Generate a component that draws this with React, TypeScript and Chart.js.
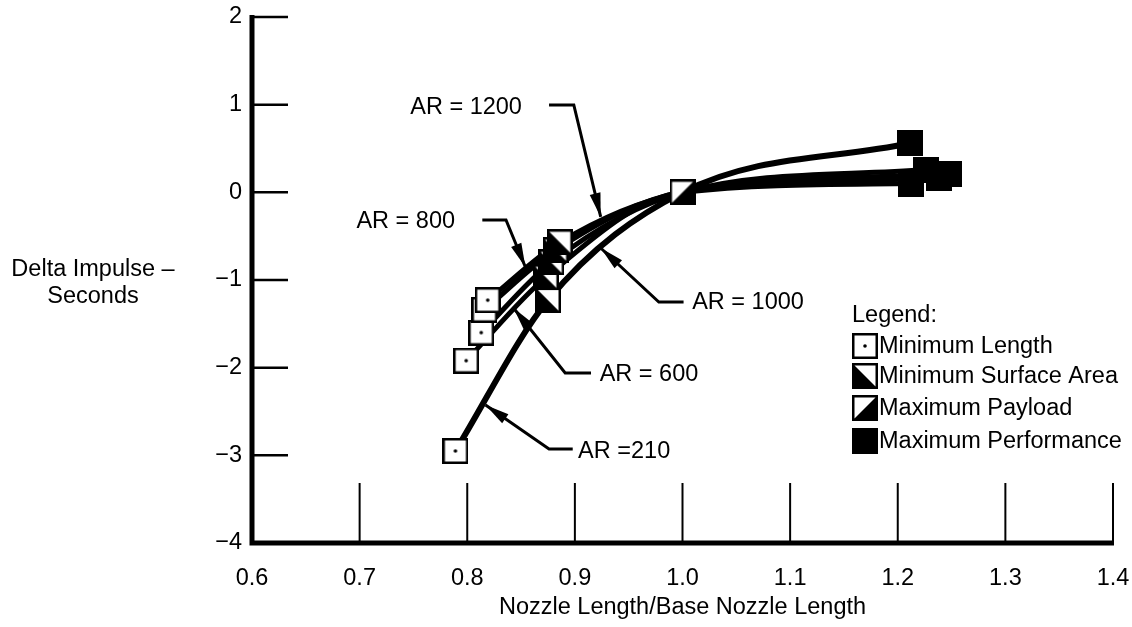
import React, { useEffect, useRef } from 'react';
import { Chart, registerables } from 'chart.js';

Chart.register(...registerables);

// ---- data ----
const designNames = ['Minimum Length', 'Minimum Surface Area', 'Maximum Payload', 'Maximum Performance'];
const arNames = ['AR =210', 'AR = 600', 'AR = 800', 'AR = 1000', 'AR = 1200'];
// per area ratio: [minimum length, minimum surface area, maximum payload, maximum performance]
const ar210X = [0.789, 0.875, 1.0, 1.211];
const ar210Y = [-2.95, -1.23, 0, 0.56];
const ar600X = [0.799, 0.873, 1.0, 1.212];
const ar600Y = [-1.92, -0.97, 0, 0.1];
const ar800X = [0.813, 0.878, 1.0, 1.226];
const ar800Y = [-1.6, -0.8, 0, 0.26];
const ar1000X = [0.816, 0.882, 1.0, 1.238];
const ar1000Y = [-1.34, -0.66, 0, 0.16];
const ar1200X = [0.819, 0.886, 1.0, 1.248];
const ar1200Y = [-1.23, -0.57, 0, 0.21];

const xTickValues = [0.6, 0.7, 0.8, 0.9, 1.0, 1.1, 1.2, 1.3, 1.4];
const yTickValues = [-4, -3, -2, -1, 0, 1, 2];

const xTitle = 'Nozzle Length/Base Nozzle Length';
const yTitleLines = ['Delta Impulse \u2013', 'Seconds'];
const legendTitle = 'Legend:';

// callout labels (data units): text left x, text centre y, leader path
const calloutText = ['AR = 1200', 'AR = 800', 'AR = 1000', 'AR = 600', 'AR =210'];
const calloutTextX = [0.747, 0.697, 1.009, 0.923, 0.903];
const calloutTextY = [0.973, -0.338, -1.262, -2.083, -2.962];
const calloutPathX = [
  [0.876, 0.899, 0.924],
  [0.814, 0.836, 0.854],
  [1.001, 0.978, 0.924],
  [0.915, 0.891, 0.843],
  [0.898, 0.876, 0.817],
];
const calloutPathY = [
  [0.996, 0.996, -0.281],
  [-0.315, -0.315, -0.852],
  [-1.251, -1.251, -0.635],
  [-2.061, -2.061, -1.319],
  [-2.928, -2.928, -2.426],
];

const FONT = '"Liberation Sans", Arial, Helvetica, sans-serif';
const FS = 23.5;

const arX = [ar210X, ar600X, ar800X, ar1000X, ar1200X];
const arY = [ar210Y, ar600Y, ar800Y, ar1000Y, ar1200Y];

function makeMarker(kind: number, size = 26): HTMLCanvasElement {
  const c = document.createElement('canvas');
  c.width = size;
  c.height = size;
  const g = c.getContext('2d')!;
  const lw = 2.5;
  const a = lw / 2;
  const b = size - lw / 2;
  g.fillStyle = kind === 3 ? '#000' : '#fff';
  g.fillRect(0, 0, size, size);
  g.fillStyle = '#000';
  if (kind === 1) {
    g.beginPath();
    g.moveTo(a, a);
    g.lineTo(a, b);
    g.lineTo(b, b);
    g.closePath();
    g.fill();
  } else if (kind === 2) {
    g.beginPath();
    g.moveTo(b, a);
    g.lineTo(b, b);
    g.lineTo(a, b);
    g.closePath();
    g.fill();
  } else if (kind === 0) {
    g.beginPath();
    g.arc(size / 2, size / 2, 1.8, 0, Math.PI * 2);
    g.fill();
  }
  g.strokeStyle = '#000';
  g.lineWidth = lw;
  g.strokeRect(a, a, size - lw, size - lw);
  return c;
}

export default function App() {
  const ref = useRef<HTMLCanvasElement | null>(null);

  useEffect(() => {
    document.body.style.margin = '0';
    document.body.style.overflow = 'hidden';
    const markers = [0, 1, 2, 3].map((k) => makeMarker(k));

    const lineSets = arNames.map((name, i) => ({
      label: name,
      data: arX[i].map((x, j) => ({ x, y: arY[i][j] })),
      borderColor: '#000',
      borderWidth: i === 0 ? 6 : 5,
      pointRadius: 0,
      showLine: true,
      fill: false,
      cubicInterpolationMode: 'monotone' as const,
      order: 2,
    }));
    const markerSets = designNames.map((name, k) => ({
      label: name,
      data: arNames.map((_, i) => ({ x: arX[i][k], y: arY[i][k] })),
      showLine: false,
      pointStyle: markers[k],
      pointRadius: 13,
      borderColor: '#000',
      backgroundColor: '#000',
      order: 1,
    }));

    const decor = {
      id: 'decor',
      beforeDatasetsDraw(chart: any) {
        const { ctx, chartArea, scales } = chart;
        const xs = scales.x;
        const ys = scales.y;
        ctx.save();
        ctx.strokeStyle = '#000';
        ctx.lineCap = 'butt';
        // y ticks (inward)
        ctx.lineWidth = 2.5;
        yTickValues.forEach((v) => {
          if (v === -4) return;
          const py = ys.getPixelForValue(v);
          ctx.beginPath();
          ctx.moveTo(chartArea.left, py);
          ctx.lineTo(chartArea.left + 36, py);
          ctx.stroke();
        });
        // x ticks (upward)
        ctx.lineWidth = 2;
        xTickValues.forEach((v) => {
          if (v === 0.6) return;
          const px = xs.getPixelForValue(v);
          ctx.beginPath();
          ctx.moveTo(px, chartArea.bottom);
          ctx.lineTo(px, chartArea.bottom - 60);
          ctx.stroke();
        });
        // axes
        ctx.lineWidth = 5;
        ctx.beginPath();
        ctx.moveTo(chartArea.left, chartArea.top - 2);
        ctx.lineTo(chartArea.left, chartArea.bottom);
        ctx.lineTo(chartArea.right + 1, chartArea.bottom);
        ctx.stroke();
        ctx.restore();
      },
      afterDatasetsDraw(chart: any) {
        const { ctx, scales } = chart;
        const xs = scales.x;
        const ys = scales.y;
        ctx.save();
        ctx.fillStyle = '#000';
        ctx.strokeStyle = '#000';
        ctx.font = `${FS}px ${FONT}`;
        ctx.textBaseline = 'middle';
        ctx.textAlign = 'left';
        calloutText.forEach((t, i) => {
          ctx.fillText(t, xs.getPixelForValue(calloutTextX[i]), ys.getPixelForValue(calloutTextY[i]));
          const pts = calloutPathX[i].map((x, j) => [xs.getPixelForValue(x), ys.getPixelForValue(calloutPathY[i][j])]);
          ctx.lineWidth = 3;
          ctx.lineJoin = 'miter';
          ctx.beginPath();
          ctx.moveTo(pts[0][0], pts[0][1]);
          for (let j = 1; j < pts.length; j++) ctx.lineTo(pts[j][0], pts[j][1]);
          ctx.stroke();
          const [x1, y1] = pts[pts.length - 2];
          const [x2, y2] = pts[pts.length - 1];
          const ang = Math.atan2(y2 - y1, x2 - x1);
          const L = 24;
          const W = 5.5;
          const bx = x2 - L * Math.cos(ang);
          const by = y2 - L * Math.sin(ang);
          ctx.beginPath();
          ctx.moveTo(x2, y2);
          ctx.lineTo(bx + W * Math.sin(ang), by - W * Math.cos(ang));
          ctx.lineTo(bx - W * Math.sin(ang), by + W * Math.cos(ang));
          ctx.closePath();
          ctx.fill();
        });
        ctx.restore();
      },
      afterDraw(chart: any) {
        const { ctx, chartArea } = chart;
        ctx.save();
        ctx.fillStyle = '#000';
        ctx.font = `${FS}px ${FONT}`;
        ctx.textBaseline = 'middle';
        // axis titles
        ctx.textAlign = 'center';
        ctx.fillText(xTitle, (chartArea.left + chartArea.right) / 2, 608);
        ctx.fillText(yTitleLines[0], 93, 270);
        ctx.fillText(yTitleLines[1], 93, 297);
        // legend
        ctx.textAlign = 'left';
        const lx = 852;
        ctx.fillText(legendTitle, lx, 316);
        const rows = [346, 376, 408, 441];
        designNames.forEach((n, k) => {
          ctx.drawImage(markers[k], lx, rows[k] - 13);
          ctx.fillText(n, lx + 27, rows[k] + 1);
        });
        ctx.restore();
      },
    };

    const chart = new Chart(ref.current!, {
      type: 'line',
      data: { datasets: [...lineSets, ...markerSets] as any },
      options: {
        animation: false,
        responsive: false,
        events: [],
        layout: { padding: { top: 17, right: 19, left: 0, bottom: 0 } },
        plugins: { legend: { display: false }, tooltip: { enabled: false }, title: { display: false } },
        scales: {
          x: {
            type: 'linear',
            min: 0.6,
            max: 1.4,
            afterBuildTicks: (s: any) => {
              s.ticks = xTickValues.map((v) => ({ value: v }));
            },
            afterFit: (s: any) => {
              s.height = 84;
              s.paddingLeft = 0;
              s.paddingRight = 0;
            },
            ticks: {
              callback: (v: any) => Number(v).toFixed(1),
              color: '#000',
              font: { size: FS, family: FONT },
              padding: 21,
              maxRotation: 0,
              autoSkip: false,
            },
            grid: { display: false, drawTicks: false },
            border: { display: false },
          },
          y: {
            type: 'linear',
            min: -4,
            max: 2,
            afterBuildTicks: (s: any) => {
              s.ticks = yTickValues.map((v) => ({ value: v }));
            },
            afterFit: (s: any) => {
              s.width = 252;
              s.paddingTop = 0;
              s.paddingBottom = 0;
            },
            ticks: {
              callback: (v: any) => (Number(v) < 0 ? '\u2212' + Math.abs(Number(v)) : String(v)),
              color: '#000',
              font: { size: FS, family: FONT },
              padding: 10,
              autoSkip: false,
            },
            grid: { display: false, drawTicks: false },
            border: { display: false },
          },
        },
      },
      plugins: [decor],
    });
    return () => chart.destroy();
  }, []);

  return (
    <div style={{ width: 1132, height: 627, background: '#fff' }}>
      <canvas ref={ref} width={1132} height={627} style={{ display: 'block' }} />
    </div>
  );
}
